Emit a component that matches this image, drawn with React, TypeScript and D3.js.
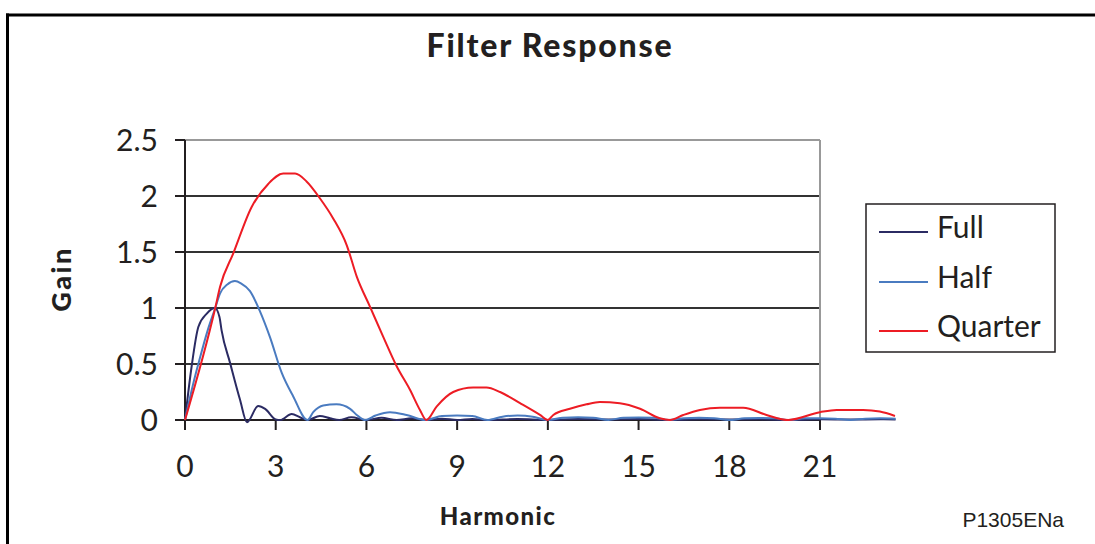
import React from 'react';
import * as d3 from 'd3';

const xTicks = [0, 3, 6, 9, 12, 15, 18, 21];
const yTicks = [0, 0.5, 1, 1.5, 2, 2.5];
const seriesNames = ['Full', 'Half', 'Quarter'];
const seriesColors = ['#2b2b63', '#4a7bc0', '#ed1c24'];

const fullH = [0, 0.22, 0.44, 0.72, 0.99, 1.14, 1.21, 1.49, 1.82, 2.05, 2.42, 2.65, 3.0, 3.15, 3.53, 3.8, 4.05, 4.46, 4.8, 5.1, 5.5, 6.0, 6.5, 7.0, 7.5, 8.0, 8.5, 9.0, 9.5, 10, 11, 12, 13, 14, 15, 16, 17, 18, 19, 20, 21, 22, 23, 23.5];
const fullG = [0, 0.48, 0.83, 0.95, 1.0, 0.92, 0.8, 0.51, 0.18, -0.02, 0.125, 0.1, 0.005, 0, 0.054, 0.025, 0, 0.036, 0.015, 0, 0.025, 0, 0.02, 0, 0.015, 0, 0.012, 0, 0.01, 0, 0.008, 0, 0.008, 0.005, 0.008, 0, 0.006, 0.005, 0.006, 0, 0.006, 0.005, 0.006, 0.005];

const halfH = [0, 0.25, 0.5, 0.75, 1.0, 1.16, 1.4, 1.65, 1.85, 2.15, 2.48, 2.81, 3.2, 3.58, 4.05, 4.24, 4.57, 5.01, 5.46, 5.68, 5.95, 6.3, 6.78, 7.33, 7.94, 8.5, 9.0, 9.5, 10.0, 10.5, 11.0, 11.5, 12.0, 12.5, 13.0, 13.5, 14.0, 14.5, 15.0, 15.5, 16.0, 16.5, 17.0, 17.5, 18.0, 18.5, 19.0, 19.5, 20.0, 20.5, 21.0, 21.5, 22.0, 22.5, 23.0, 23.5];
const halfG = [0, 0.3, 0.56, 0.8, 1.0, 1.13, 1.21, 1.24, 1.22, 1.15, 0.97, 0.74, 0.42, 0.21, 0, 0.07, 0.13, 0.14, 0.1, 0.045, 0, 0.04, 0.07, 0.045, 0, 0.035, 0.04, 0.035, 0, 0.03, 0.04, 0.03, 0, 0.02, 0.025, 0.02, 0, 0.02, 0.022, 0.02, 0, 0.015, 0.02, 0.015, 0, 0.015, 0.018, 0.015, 0, 0.015, 0.015, 0.012, 0, 0.012, 0.015, 0.012];

const quarterH = [0, 1.0, 1.16, 1.6, 2.2, 2.76, 3.25, 3.64, 4.02, 4.46, 4.9, 5.35, 5.68, 6.12, 6.56, 7.0, 7.44, 7.77, 7.98, 8.32, 8.87, 9.53, 9.97, 10.42, 11.08, 11.74, 12.0, 12.18, 12.73, 13.28, 13.72, 14.38, 15.05, 15.7, 16.04, 16.48, 17.03, 17.69, 18.46, 19.23, 19.95, 21.0, 21.55, 22.43, 22.98, 23.48];
const quarterG = [0, 1.0, 1.19, 1.49, 1.9, 2.11, 2.2, 2.2, 2.13, 1.98, 1.8, 1.56, 1.28, 1.01, 0.74, 0.48, 0.27, 0.09, 0, 0.12, 0.25, 0.29, 0.29, 0.25, 0.15, 0.045, 0, 0.045, 0.1, 0.14, 0.16, 0.15, 0.1, 0.015, 0, 0.045, 0.09, 0.11, 0.11, 0.045, 0, 0.07, 0.09, 0.09, 0.075, 0.036];

const FONT = "Lato, 'Open Sans', sans-serif";

export default function App() {
  const W = 1095, H = 544;
  const x = d3.scaleLinear().domain([0, 21]).range([185, 820]);
  const y = d3.scaleLinear().domain([0, 2.5]).range([420, 140]);
  const line = d3.line<[number, number]>().x(d => x(d[0])).y(d => y(d[1])).curve(d3.curveMonotoneX);
  const series = [
    d3.zip(fullH, fullG) as [number, number][],
    d3.zip(halfH, halfG) as [number, number][],
    d3.zip(quarterH, quarterG) as [number, number][],
  ];
  const legendY = [232, 282, 331];
  return (
    <svg width={W} height={H} style={{ position: 'absolute', left: 0, top: 0, background: '#fff' }}>
      {/* frame */}
      <line x1={6} x2={W} y1={15} y2={15} stroke="#000" strokeWidth={3} />
      <line x1={7.5} x2={7.5} y1={13.5} y2={H} stroke="#000" strokeWidth={3} />
      {/* title */}
      <text x={550} y={57} textAnchor="middle" fontFamily={FONT} fontWeight={900} fontSize={32} letterSpacing={1.8} fill="#231f20">Filter Response</text>
      {/* gridlines */}
      {yTicks.filter(t => t > 0 && t < 2.5).map(t => (
        <line key={t} x1={x(0)} x2={x(21)} y1={y(t)} y2={y(t)} stroke="#333" strokeWidth={2} />
      ))}
      <line x1={x(0)} x2={x(21)} y1={y(2.5)} y2={y(2.5)} stroke="#999" strokeWidth={2} />
      <line x1={x(21)} x2={x(21)} y1={y(2.5)} y2={y(0)} stroke="#999" strokeWidth={2} />
      {/* axes */}
      <line x1={x(0)} x2={x(0)} y1={y(2.5)} y2={y(0) + 10} stroke="#231f20" strokeWidth={2} />
      <line x1={x(0)} x2={x(21)} y1={y(0)} y2={y(0)} stroke="#231f20" strokeWidth={2} />
      {yTicks.map(t => (
        <g key={t}>
          <line x1={x(0) - 10} x2={x(0)} y1={y(t)} y2={y(t)} stroke="#231f20" strokeWidth={2} />
          <text x={158} y={y(t)} dy="0.36em" textAnchor="end" fontFamily={FONT} fontSize={30} fill="#231f20">{t}</text>
        </g>
      ))}
      {xTicks.map(t => (
        <g key={t}>
          <line x1={x(t)} x2={x(t)} y1={y(0)} y2={y(0) + 10} stroke="#231f20" strokeWidth={2} />
          <text x={x(t)} y={477} textAnchor="middle" fontFamily={FONT} fontSize={30} fill="#231f20">{t}</text>
        </g>
      ))}
      {/* series */}
      {series.map((s, i) => (
        <path key={i} d={line(s) || ''} fill="none" stroke={seriesColors[i]} strokeWidth={2} strokeLinejoin="round" />
      ))}
      {/* axis titles */}
      <text transform="translate(71,279) rotate(-90)" textAnchor="middle" fontFamily={FONT} fontWeight={900} fontSize={27} letterSpacing={2.5} fill="#231f20">Gain</text>
      <text x={498} y={525} textAnchor="middle" fontFamily={FONT} fontWeight={900} fontSize={24} letterSpacing={1.4} fill="#231f20">Harmonic</text>
      {/* legend */}
      <rect x={866} y={204} width={189} height={148} fill="#fff" stroke="#231f20" strokeWidth={1.5} />
      {seriesNames.map((n, i) => (
        <g key={n}>
          <line x1={879} x2={928} y1={legendY[i]} y2={legendY[i]} stroke={seriesColors[i]} strokeWidth={2} />
          <text x={937} y={legendY[i] + 6} fontFamily={FONT} fontSize={30} fill="#231f20">{n}</text>
        </g>
      ))}
      <text x={1064} y={527} textAnchor="end" fontFamily="'Liberation Sans', Arial, sans-serif" fontSize={21} fill="#231f20">P1305ENa</text>
    </svg>
  );
}
